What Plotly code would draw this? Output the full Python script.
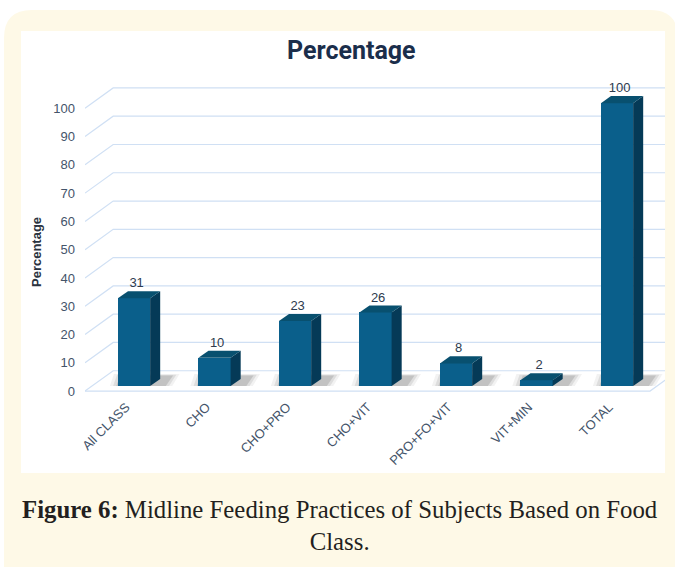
import plotly.graph_objects as go

# Food-class categories and the share of subjects (%) in each
categories = ["All CLASS", "CHO", "CHO+PRO", "CHO+VIT", "PRO+FO+VIT", "VIT+MIN", "TOTAL"]
percentages = [31, 10, 23, 26, 8, 2, 100]
y_ticks = [0, 10, 20, 30, 40, 50, 60, 70, 80, 90, 100]

# --- canvas geometry (pixels) ---
W, H = 675, 567
ML, MR, MT, MB = 85, 10, 80, 167
PW, PH = W - ML - MR, H - MT - MB

# pseudo-3D depth offsets, in data units
BAR_W = 0.40          # front face width (category units)
SIDE_DX = 0.125       # depth shift of bar side/top, x
SIDE_DY = 2.5         # depth shift of bar side/top, y
FRONT = -1.8          # floor front plane relative to bar plane
BACK = 5.4            # back wall relative to bar plane
WALL_DX = 0.35        # x shift from floor front to back wall

X_MIN, X_MAX = -0.609, 6.596
Y_MIN, Y_MAX = -4.95, 108.2

FRONT_COL = "#0A5F8B"
SIDE_COL = "#053A57"
TOP_COL = "#08506F"
GRID_COL = "#D0E0F4"
TEXT_COL = "#44546A"


def px_x(p):
    return (p - ML) / PW


def px_y(p):
    return (H - MB - p) / PH


xs = list(range(len(categories)))

# chart frame: cream card and white panel
shapes = [
    dict(type="path", xref="paper", yref="paper", layer="below",
         path=(f"M {px_x(4)},{px_y(38)} "
               f"Q {px_x(4)},{px_y(10)} {px_x(32)},{px_y(10)} "
               f"L {px_x(650)},{px_y(10)} "
               f"Q {px_x(678)},{px_y(10)} {px_x(678)},{px_y(38)} "
               f"L {px_x(678)},{px_y(575)} L {px_x(4)},{px_y(575)} Z"),
         fillcolor="#FEF9E7", line=dict(width=0)),
    dict(type="rect", xref="paper", yref="paper", layer="below",
         x0=px_x(21), x1=px_x(665), y0=px_y(473), y1=px_y(31),
         fillcolor="white", line=dict(width=0)),
]

# back wall gridlines with their diagonal returns to the front plane
for t in y_ticks:
    shapes.append(dict(
        type="path", xref="x", yref="y", layer="below",
        path=(f"M {X_MIN},{t + FRONT} L {X_MIN + WALL_DX},{t + BACK} "
              f"L {X_MAX + 1},{t + BACK}"),
        line=dict(color=GRID_COL, width=1.2)))

# floor front edge
shapes.append(dict(
    type="path", xref="x", yref="y", layer="below",
    path=f"M {X_MIN},{FRONT} L 6.41,{FRONT} L {6.41 + WALL_DX},{BACK}",
    line=dict(color=GRID_COL, width=1.2)))

# soft floor shadows behind each bar
for i in xs:
    for k, op in enumerate([0.06, 0.10, 0.15]):
        grow = 0.10 - k * 0.04
        x0 = i - BAR_W / 2 - grow
        x1 = i + BAR_W / 2 + SIDE_DX + 0.05 + grow
        x2 = i + BAR_W / 2 + SIDE_DX + 0.14 + grow
        x3 = i - BAR_W / 2 + 0.05 - grow
        h = 3.6 + grow * 6
        shapes.append(dict(
            type="path", xref="x", yref="y", layer="below",
            path=f"M {x0},0 L {x1},0 L {x2},{h} L {x3},{h} Z",
            fillcolor=f"rgba(40,40,40,{op})", line=dict(width=0)))

fig = go.Figure()

# front faces
fig.add_trace(go.Bar(
    x=xs, y=percentages, width=BAR_W,
    marker=dict(color=FRONT_COL, line=dict(width=0)),
    hovertemplate="%{customdata}: %{y}%<extra></extra>",
    customdata=categories, showlegend=False))

# side and top faces
for i, v in zip(xs, percentages):
    r = i + BAR_W / 2
    l = i - BAR_W / 2
    fig.add_trace(go.Scatter(
        x=[r, r + SIDE_DX, r + SIDE_DX, r, r],
        y=[0, SIDE_DY, v + SIDE_DY, v, 0],
        fill="toself", fillcolor=SIDE_COL, line=dict(width=0),
        mode="lines", hoverinfo="skip", showlegend=False))
    fig.add_trace(go.Scatter(
        x=[l, r, r + SIDE_DX, l + SIDE_DX, l],
        y=[v, v, v + SIDE_DY, v + SIDE_DY, v],
        fill="toself", fillcolor=TOP_COL, line=dict(width=0),
        mode="lines", hoverinfo="skip", showlegend=False))

# value labels
fig.add_trace(go.Scatter(
    x=[i + SIDE_DX / 2 - 0.03 for i in xs],
    y=[v + SIDE_DY + 0.2 for v in percentages],
    text=[str(v) for v in percentages],
    mode="text", textposition="top center",
    textfont=dict(family="Liberation Sans, Arial", size=13, color="#2E3B4E"),
    hoverinfo="skip", showlegend=False))

annotations = [
    dict(text="<b>Percentage</b>", x=px_x(351), y=px_y(50), xref="paper", yref="paper",
         showarrow=False, xanchor="center", yanchor="middle",
         font=dict(family="Roboto, Liberation Sans", size=25, color="#1B2E4B")),
    dict(text="<b>Percentage</b>", x=px_x(36), y=px_y(252), xref="paper", yref="paper",
         showarrow=False, textangle=-90, xanchor="center", yanchor="middle",
         font=dict(family="Liberation Sans, Arial", size=13, color="#2B3340")),
    dict(text="<b>Figure 6:</b> Midline Feeding Practices of Subjects Based on Food<br>Class.",
         x=px_x(340), y=px_y(525), xref="paper", yref="paper",
         showarrow=False, xanchor="center", yanchor="middle", align="center",
         font=dict(family="Liberation Serif, Times New Roman", size=24.8, color="#231F20")),
]

fig.update_layout(
    width=W, height=H,
    margin=dict(l=ML, r=MR, t=MT, b=MB, pad=0),
    paper_bgcolor="white", plot_bgcolor="rgba(0,0,0,0)",
    shapes=shapes, annotations=annotations,
    bargap=0, showlegend=False,
    xaxis=dict(range=[X_MIN, X_MAX], tickvals=xs, ticktext=categories,
               tickangle=-45, showgrid=False, zeroline=False, showline=False,
               ticks="", ticklabelstandoff=-4, ticklabelshift=-8,
               tickfont=dict(family="Liberation Sans, Arial", size=13, color=TEXT_COL)),
    yaxis=dict(range=[Y_MIN, Y_MAX], tickvals=[t + FRONT for t in y_ticks],
               ticktext=[str(t) for t in y_ticks], showgrid=False, zeroline=False,
               showline=False, ticks="", ticklabelstandoff=9,
               tickfont=dict(family="Liberation Sans, Arial", size=13, color=TEXT_COL)),
)

fig.write_html("out.html")
